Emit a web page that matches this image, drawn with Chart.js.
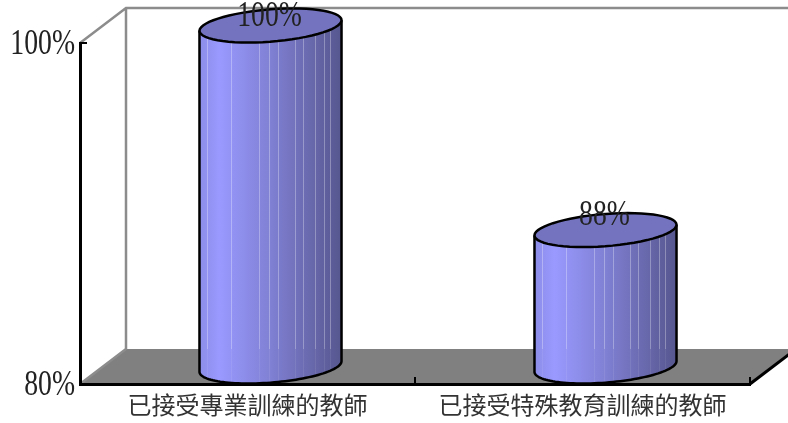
<!DOCTYPE html>
<html>
<head>
<meta charset="utf-8">
<style>
  html, body { margin: 0; padding: 0; background: #fff; overflow: hidden; }
  canvas { display: block; }
</style>
<script src="https://cdn.jsdelivr.net/npm/chart.js@4"></script>
</head>
<body>
<canvas id="myChart" width="788" height="423"></canvas>
<script>
const categories = ["已接受專業訓練的教師", "已接受特殊教育訓練的教師"];
const teacherPercent = [100, 88];
const yTickValues = [80, 100];

const textFont = '"Liberation Serif", "Noto Sans CJK TC"';
const depthX = 46;
const depthY = 35;
const seams = [0.05, 0.22, 0.42, 0.49, 0.55, 0.67, 0.73, 0.81, 0.88, 0.92];
const labelLift = [9, 15];

// digits in the original are tall and narrow, so squeeze them sideways
function narrowText(ctx, text, x, y, align) {
  ctx.save();
  ctx.translate(x, y);
  ctx.scale(0.77, 1);
  ctx.fillStyle = "#222";
  ctx.font = "36px " + textFont;
  ctx.textAlign = align;
  ctx.textBaseline = "middle";
  ctx.fillText(text, 0, 0);
  ctx.restore();
}

// back walls and floor, drawn behind the scales
const wallsPlugin = {
  id: "walls",
  beforeDraw(chart) {
    const ctx = chart.ctx;
    const { left, right, top, bottom } = chart.chartArea;
    ctx.save();
    ctx.fillStyle = "#808080";
    ctx.beginPath();
    ctx.moveTo(left, bottom);
    ctx.lineTo(left + depthX, bottom - depthY);
    ctx.lineTo(right + depthX, bottom - depthY);
    ctx.lineTo(right, bottom);
    ctx.closePath();
    ctx.fill();

    ctx.strokeStyle = "#8c8c8c";
    ctx.lineWidth = 2.5;
    ctx.beginPath();
    ctx.moveTo(left, top);
    ctx.lineTo(left + depthX, top - depthY);
    ctx.lineTo(right + depthX, top - depthY);
    ctx.moveTo(left + depthX, top - depthY);
    ctx.lineTo(left + depthX, bottom - depthY);
    ctx.lineTo(left, bottom);
    ctx.stroke();

    ctx.strokeStyle = "#000";
    ctx.lineWidth = 3;
    ctx.beginPath();
    ctx.moveTo(right, bottom);
    ctx.lineTo(right + depthX, bottom - depthY);
    ctx.stroke();
    ctx.restore();
  }
};

function ellipsePath(ctx, cx, cy, a, bx, by, from, to) {
  const n = 60;
  for (let i = 0; i <= n; i++) {
    const t = from + (to - from) * i / n;
    const x = cx + a * Math.cos(t) + bx * Math.sin(t);
    const y = cy + by * Math.sin(t);
    ctx.lineTo(x, y);
  }
}

// each bar is redrawn as a cylinder at half depth
const cylinderPlugin = {
  id: "cylinders",
  afterDatasetsDraw(chart) {
    const ctx = chart.ctx;
    const bars = chart.getDatasetMeta(0).data;
    const zeroY = chart.scales.y.getPixelForValue(yTickValues[0]);
    const floorY = chart.chartArea.bottom - depthY;
    bars.forEach((bar, i) => {
      const half = bar.width / 2;
      const cx = bar.x + depthX / 2;
      const topY = bar.y - depthY / 2;
      const baseY = zeroY - depthY / 2;
      const bx = 22.3, by = -17;
      const a = Math.sqrt(half * half - bx * bx);
      const tilt = Math.atan2(bx, a);
      const rise = by * Math.sin(tilt);

      ctx.save();
      ctx.beginPath();
      ctx.moveTo(cx - half, topY - rise);
      ctx.lineTo(cx - half, baseY - rise);
      ellipsePath(ctx, cx, baseY, a, bx, by, Math.PI + tilt, 2 * Math.PI + tilt);
      ctx.lineTo(cx + half, topY + rise);
      ellipsePath(ctx, cx, topY, a, bx, by, tilt, Math.PI + tilt);
      ctx.closePath();

      const grad = ctx.createLinearGradient(cx - half, 0, cx + half, 0);
      grad.addColorStop(0, "#8c8ce8");
      grad.addColorStop(0.14, "#9999ff");
      grad.addColorStop(0.5, "#8080d4");
      grad.addColorStop(1, "#56568f");
      ctx.fillStyle = grad;
      ctx.fill();

      // light banding seams on the body
      ctx.clip();
      ctx.lineWidth = 1;
      seams.forEach(s => {
        const sx = Math.round(cx - half + s * half * 2) + 0.5;
        ctx.strokeStyle = "rgba(255,255,255,0.3)";
        ctx.beginPath();
        ctx.moveTo(sx, topY - 30);
        ctx.lineTo(sx, floorY);
        ctx.stroke();
        ctx.strokeStyle = "rgba(255,255,255,0.08)";
        ctx.beginPath();
        ctx.moveTo(sx, floorY);
        ctx.lineTo(sx, baseY + 30);
        ctx.stroke();
      });
      ctx.restore();

      ctx.save();
      ctx.strokeStyle = "#000";
      ctx.lineWidth = 2.5;
      ctx.beginPath();
      ctx.moveTo(cx - half, topY - rise);
      ctx.lineTo(cx - half, baseY - rise);
      ellipsePath(ctx, cx, baseY, a, bx, by, Math.PI + tilt, 2 * Math.PI + tilt);
      ctx.lineTo(cx + half, topY + rise);
      ctx.stroke();

      ctx.beginPath();
      ellipsePath(ctx, cx, topY, a, bx, by, 0, 2 * Math.PI);
      ctx.closePath();
      ctx.fillStyle = "#7373bf";
      ctx.fill();
      ctx.stroke();
      ctx.restore();

      narrowText(ctx, teacherPercent[i] + "%", cx - 1, topY - labelLift[i], "center");
    });

    const yScale = chart.scales.y;
    yTickValues.forEach(v => {
      narrowText(ctx, v + "%", 75, yScale.getPixelForValue(v) + 2, "right");
    });
  }
};

new Chart(document.getElementById("myChart"), {
  type: "bar",
  data: {
    labels: categories,
    datasets: [{
      data: teacherPercent,
      backgroundColor: "transparent",
      borderWidth: 0,
      categoryPercentage: 1,
      barPercentage: 0.424
    }]
  },
  plugins: [wallsPlugin, cylinderPlugin],
  options: {
    responsive: false,
    animation: false,
    layout: { padding: { top: 43, right: 38, left: 0, bottom: 0 } },
    plugins: { legend: { display: false }, tooltip: { enabled: false } },
    scales: {
      x: {
        afterFit: s => { s.height = 39; },
        grid: { drawOnChartArea: false, drawTicks: true, tickLength: -7, color: "#000", lineWidth: 2 },
        border: { color: "#000", width: 3 },
        ticks: { color: "#333", font: { family: textFont, size: 24 }, padding: 16, maxRotation: 0, autoSkip: false }
      },
      y: {
        min: 80,
        max: 100,
        afterFit: s => { s.width = 80; },
        afterBuildTicks: s => { s.ticks = yTickValues.map(v => ({ value: v })); },
        grid: { drawOnChartArea: false, drawTicks: true, tickLength: -7, color: "#000", lineWidth: 2 },
        border: { color: "#000", width: 3 },
        ticks: { display: false }
      }
    }
  }
});
</script>
</body>
</html>
